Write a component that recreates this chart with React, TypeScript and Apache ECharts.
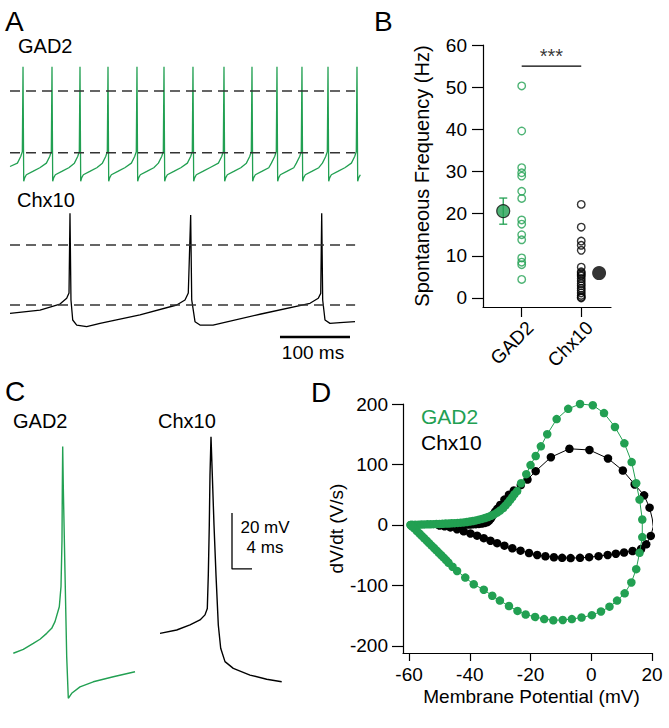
import React, { useEffect, useRef } from 'react';
import * as echarts from 'echarts';

const GREEN = '#22a052';
const FONT = '"Liberation Sans", Arial, Helvetica, sans-serif';

// ---------- Panel A: spontaneous firing (time in ms, voltage in mV) ----------
const A_GAD2_START = [0, -61];
const A_GAD2_SPIKE_TIMES = [18.6, 60, 100, 140, 181.4, 220, 261.4, 305.7, 345.7, 381.4, 417.1, 454.3, 495.7];
const A_GAD2_PRE_SPIKE = [[-8, -58.3], [-3.3, -53], [-1, -49], [0, 19.6]];
const A_GAD2_POST_SPIKE = [[1, -73], [2.5, -70], [4.8, -67.7], [14, -65], [24, -62]];
const A_CHX10_TRACE = [
  [0, -56.9], [42.9, -54.2], [71.4, -49.2], [81, -44.4], [84.3, -40], [85.7, 26.4], [87.1, -45.8],
  [89.6, -62.5], [95.3, -66.7], [109.6, -68], [128.6, -65.3], [185.7, -58.3], [238.1, -50], [250, -45.8],
  [254.7, -40], [258.1, 25], [259.6, -45.8], [264.3, -63.9], [271.4, -66.7], [290, -66.7], [358.6, -57.5],
  [428.6, -48.6], [440.4, -44.4], [443.9, -40.3], [445.3, 26.4], [446.7, -45.8], [450, -62.5],
  [457.1, -65.3], [471.4, -64.7], [492.9, -63.9],
];
const A_DASH_LEVELS = [0, -50];
const A_DASH_SPAN = [0, 493];
const A_SCALE_MS = [385.7, 485.7];
const A_SCALE_LEVEL = -76.7;

// ---------- Panel B: spontaneous frequency (Hz) ----------
const B_CATEGORIES = ['GAD2', 'Chx10'];
const B_GAD2_FREQ = [50.3, 39.6, 30.9, 29.7, 28.9, 25.3, 23.6, 18.5, 17.5, 15.0, 13.8, 9.5, 8.5, 7.9, 4.4];
const B_CHX10_FREQ = [22.2, 16.8, 13.5, 12.5, 11.3, 7.3, 6.2, 5.9, 5.5, 5.2, 4.6, 4.0, 3.4, 2.9, 2.3, 1.8, 1.2, 0.6, 0.2, 0];
const B_GAD2_MEAN = 20.6;
const B_GAD2_SEM = 3.1;
const B_CHX10_MEAN = 5.9;
const B_SIG_LEVEL = 55;
const B_SIG_TEXT = '***';
const B_Y_TICKS = [0, 10, 20, 30, 40, 50, 60];

// ---------- Panel C: single spikes (ms, mV) ----------
const C_GAD2_TRACE = [
  [0.66, -53.3], [2.66, -51.9], [4.66, -49.8], [6.0, -48.3], [7.34, -46.2], [8.34, -44.4], [9.0, -42.0],
  [9.86, -36.7], [10.2, -29.5], [10.4, -12.9], [10.46, 5.0], [10.54, 20.5], [10.66, 6.2], [11.0, -24.6],
  [11.34, -54.5], [11.66, -69.4], [12.34, -67.6], [14.0, -65.3], [16.66, -63.5], [20.66, -61.7], [25.0, -59.9],
];
const C_CHX10_TRACE = [
  [30.0, -46.2], [33.34, -45.0], [36.0, -43.2], [38.0, -41.4], [39.0, -39.6], [39.46, -37.3], [39.66, -25.4],
  [39.86, -7.5], [40.0, 10.4], [40.2, 24.0], [40.46, 10.4], [40.8, -7.5], [41.2, -25.4], [41.66, -43.2],
  [42.14, -51.5], [43.0, -56.3], [44.66, -58.7], [48.0, -61.1], [51.34, -62.6], [54.34, -63.5],
];
const C_SCALE_ORIGIN = [44.4, -23.2];
const C_SCALE_MV = 20;
const C_SCALE_MS = 4;

// ---------- Panel D: phase plots (mV, V/s) ----------
const D_X_TICKS = [-60, -40, -20, 0, 20];
const D_Y_TICKS = [-200, -100, 0, 100, 200];
const D_GAD2_PHASE = [
  [-59.5, 0], [-59, 0.2], [-58, 0.4], [-57, 0.6], [-56, 0.8], [-55, 1], [-54, 1.1], [-53, 1.2], [-52, 1.4],
  [-51, 1.6], [-50, 1.8], [-49, 2], [-48, 2.3], [-47, 2.5], [-46, 2.8], [-45, 3], [-44, 3.4], [-43, 3.8],
  [-42, 4.3], [-41, 5], [-40, 5.7], [-39, 6.6], [-38, 7.6], [-37, 8.8], [-36, 10], [-35, 11.5], [-34, 13.2],
  [-33, 15.2], [-32, 17.5], [-31, 20.5], [-30, 24], [-29, 28], [-28.2, 32.5], [-27.4, 37], [-26.7, 41.5],
  [-26, 46], [-25.3, 51], [-24.4, 56], [-23.1, 69], [-21.4, 84], [-20, 99], [-18.3, 114], [-16.6, 130],
  [-14.5, 150], [-11.4, 175], [-7.6, 192], [-3.7, 200], [0.5, 198], [4.2, 185], [7.8, 162], [10.9, 135],
  [13.3, 104], [14.8, 69], [15.9, 42], [16.8, 9], [16.8, -20], [15.9, -46], [14.8, -73], [13.2, -95],
  [11, -113], [8.5, -125], [6, -135], [3.2, -143], [0.2, -149], [-3.2, -153], [-6.4, -155.5], [-9.4, -157],
  [-12.5, -157.5], [-15.5, -155.5], [-18.5, -152], [-21.6, -148], [-24.3, -142], [-27.1, -134], [-30.1, -125],
  [-32.6, -117], [-35.4, -107], [-38.7, -98], [-41.5, -87], [-44.2, -76], [-45.7, -69], [-47, -62.5],
  [-47.8, -58], [-48.6, -54], [-49.4, -50], [-50.2, -46], [-51, -42], [-51.8, -38], [-52.6, -34], [-53.4, -30],
  [-54.2, -26], [-55, -22], [-55.8, -18], [-56.6, -14], [-57.4, -10], [-58.2, -6], [-59, -2.5], [-59.5, 0],
];
const D_CHX10_PHASE = [
  [-50, -0.5], [-49, -0.3], [-48, 0], [-47, 0], [-46, 0], [-45, 0.2], [-44, 0.3], [-43, 0.4], [-42, 0.5],
  [-41, 0.7], [-40, 0.9], [-39, 1.1], [-38, 1.4], [-37, 1.8], [-36, 2.4], [-35, 3.4], [-34.2, 5], [-33.6, 7.5],
  [-33.1, 10.5], [-32.7, 14], [-32.2, 18], [-31.6, 22.5], [-30.9, 27], [-30, 33], [-28.6, 42], [-27.1, 50],
  [-25.5, 57], [-23.2, 66], [-21, 75], [-18.3, 89], [-13.3, 112], [-7.2, 126], [-0.6, 124], [5.5, 110],
  [10.4, 90], [14.3, 67], [17.4, 49], [19.2, 28.6], [20.1, 10], [20.4, -3], [19.6, -18], [18.1, -32],
  [16.4, -39.7], [13.6, -43], [10.8, -45.5], [8.1, -47.5], [5.4, -49.6], [2.4, -51.5], [-0.7, -53.2],
  [-3.7, -54.3], [-6.8, -54.7], [-9.6, -54.3], [-12.3, -53.4], [-15.1, -51.7], [-17.8, -49.6], [-20.5, -46.3],
  [-23.3, -42.4], [-26, -38.5], [-28.6, -34.2], [-31, -30], [-33.2, -26], [-35.4, -21.8], [-37.6, -17.6],
  [-39.8, -14], [-42, -10.5], [-44.2, -7], [-46.4, -4], [-48.3, -2], [-50, -0.5],
];

function buildGad2Trace(): number[][] {
  const out: number[][] = [A_GAD2_START];
  A_GAD2_SPIKE_TIMES.forEach((ts, i) => {
    const next = A_GAD2_SPIKE_TIMES[i + 1];
    A_GAD2_PRE_SPIKE.forEach(([dt, v]) => {
      const t = ts + dt;
      if (t > out[out.length - 1][0]) out.push([t, v]);
    });
    A_GAD2_POST_SPIKE.forEach(([dt, v]) => {
      const t = ts + dt;
      if (t <= 505 && (next === undefined || t < next - 8)) out.push([t, v]);
    });
  });
  return out;
}

const hiddenAxis = (gridIndex: number, min: number, max: number) => ({
  gridIndex, type: 'value', min, max, show: false,
  axisLine: { show: false, onZero: false }, splitLine: { show: false },
});

export default function App() {
  const ref = useRef<HTMLDivElement>(null);
  useEffect(() => {
    document.body.style.margin = '0';
    if (!ref.current) return;
    const chart = echarts.init(ref.current, null, { renderer: 'svg' });
    const gad2A = buildGad2Trace();
    const lineTxt = { color: '#000', fontFamily: FONT };
    const dashStyle = { color: '#333', width: 1.5, type: [10, 6] as any };
    const dashSeries = (gi: number) =>
      A_DASH_LEVELS.map((lv) => ({
        type: 'line', name: 'level ' + lv, xAxisIndex: gi, yAxisIndex: gi,
        data: [[A_DASH_SPAN[0], lv], [A_DASH_SPAN[1], lv]], symbol: 'none', lineStyle: dashStyle, z: 3,
      }));

    const txt = (text: string, x: number, y: number, size: number, color = '#000', align = 'left') => ({
      type: 'text', x, y,
      style: {
        text, fill: color, font: `${size}px ${FONT}`, textAlign: align, textVerticalAlign: 'middle',
        align, verticalAlign: 'middle',
      },
    });

    const option: any = {
      animation: false,
      textStyle: { fontFamily: FONT },
      grid: [
        { left: 10, top: 60, width: 353.5, height: 130, outerBoundsMode: 'none' },
        { left: 10, top: 209, width: 353.5, height: 132, outerBoundsMode: 'none' },
        { left: 483, top: 45, width: 128, height: 262, outerBoundsMode: 'none' },
        { left: 10, top: 420, width: 290, height: 294, outerBoundsMode: 'none' },
        { left: 403, top: 404, width: 249, height: 249, outerBoundsMode: 'none' },
      ],
      xAxis: [
        hiddenAxis(0, 0, 505),
        hiddenAxis(1, 0, 505),
        {
          gridIndex: 2, type: 'value', min: 0.35, max: 2.5,
          axisLine: { onZero: false, lineStyle: { color: '#000', width: 1.2 } },
          axisTick: { show: true, length: 10, customValues: [1, 2], lineStyle: { color: '#000', width: 1.2 } },
          axisLabel: {
            customValues: [1, 2], rotate: 45, margin: 26, padding: [0, -12, 0, 0], fontSize: 19, ...lineTxt,
            formatter: (v: number) => B_CATEGORIES[Math.round(v) - 1] || '',
          },
          splitLine: { show: false },
        },
        hiddenAxis(3, 0, 58),
        {
          gridIndex: 4, type: 'value', min: -62, max: 20,
          axisLine: { onZero: false, lineStyle: { color: '#000', width: 1.2 } },
          axisTick: { show: true, length: 8, customValues: D_X_TICKS, lineStyle: { color: '#000', width: 1.2 } },
          axisLabel: { customValues: D_X_TICKS, margin: 12, fontSize: 19, ...lineTxt },
          splitLine: { show: false },
          name: 'Membrane Potential (mV)', nameLocation: 'middle', nameGap: 34,
          nameTextStyle: { fontSize: 19, padding: [0, 0, 0, 8], ...lineTxt },
        },
      ],
      yAxis: [
        hiddenAxis(0, -80, 25),
        hiddenAxis(1, -80, 30),
        {
          gridIndex: 2, type: 'value', min: -2.14, max: 60,
          axisLine: { onZero: false, lineStyle: { color: '#000', width: 1.2 } },
          axisTick: { show: true, length: 11, customValues: B_Y_TICKS, lineStyle: { color: '#000', width: 1.2 } },
          axisLabel: { customValues: B_Y_TICKS, margin: 16, fontSize: 19, ...lineTxt },
          splitLine: { show: false },
          name: 'Spontaneous Frequency (Hz)', nameLocation: 'middle', nameGap: 51,
          nameTextStyle: { fontSize: 20, ...lineTxt },
        },
        hiddenAxis(3, -75, 30),
        {
          gridIndex: 4, type: 'value', min: -211.6, max: 200,
          axisLine: { onZero: false, lineStyle: { color: '#000', width: 1.2 } },
          axisTick: { show: true, length: 11, customValues: D_Y_TICKS, lineStyle: { color: '#000', width: 1.2 } },
          axisLabel: { customValues: D_Y_TICKS, margin: 15, fontSize: 19, ...lineTxt },
          splitLine: { show: false },
          name: 'dV/dt (V/s)', nameLocation: 'middle', nameGap: 57,
          nameTextStyle: { fontSize: 19, ...lineTxt },
        },
      ],
      legend: {
        orient: 'vertical', left: 411, top: 401, icon: 'none', itemWidth: 0, itemHeight: 14, itemGap: 5,
        selectedMode: false,
        textStyle: { fontSize: 21, fontFamily: FONT },
        data: [
          { name: 'GAD2', textStyle: { color: GREEN } },
          { name: 'Chx10', textStyle: { color: '#000' } },
        ],
      },
      graphic: [
        txt('A', 5, 21, 28),
        txt('B', 374, 21, 28),
        txt('C', 5, 391, 28),
        txt('D', 311, 392, 28),
        txt('GAD2', 18, 46, 20),
        txt('Chx10', 17, 200, 20),
        txt('100 ms', 313, 352, 19, '#000', 'center'),
        txt('GAD2', 13, 421, 20),
        txt('Chx10', 158, 421, 20),
        txt('20 mV', 265, 527, 17, '#000', 'center'),
        txt('4 ms', 265, 547, 17, '#000', 'center'),
      ],
      series: [
        // Panel A
        {
          type: 'line', name: 'GAD2 trace', xAxisIndex: 0, yAxisIndex: 0, data: gad2A, symbol: 'none',
          lineStyle: { color: GREEN, width: 1.3 }, z: 2,
        },
        ...dashSeries(0),
        {
          type: 'line', name: 'Chx10 trace', xAxisIndex: 1, yAxisIndex: 1, data: A_CHX10_TRACE, symbol: 'none',
          lineStyle: { color: '#000', width: 1.3 }, z: 2,
        },
        ...dashSeries(1),
        {
          type: 'line', name: 'A scale bar', xAxisIndex: 1, yAxisIndex: 1, symbol: 'none',
          data: [[A_SCALE_MS[0], A_SCALE_LEVEL], [A_SCALE_MS[1], A_SCALE_LEVEL]],
          lineStyle: { color: '#000', width: 2.6 },
        },
        // Panel B
        {
          type: 'line', name: 'significance', xAxisIndex: 2, yAxisIndex: 2, symbol: 'none',
          data: [[1, B_SIG_LEVEL], [2, B_SIG_LEVEL]], lineStyle: { color: '#000', width: 1.2 },
        },
        {
          type: 'scatter', name: 'significance label', xAxisIndex: 2, yAxisIndex: 2, symbolSize: 0,
          data: [[1.5, B_SIG_LEVEL]],
          label: { show: true, position: 'top', distance: 0, formatter: B_SIG_TEXT, fontSize: 20, color: '#000', fontFamily: FONT },
        },
        {
          type: 'scatter', name: 'GAD2 cells', xAxisIndex: 2, yAxisIndex: 2, symbolSize: 7.5,
          data: B_GAD2_FREQ.map((v) => [1, v]),
          itemStyle: { color: 'rgba(0,0,0,0)', borderColor: GREEN, borderWidth: 1.4 },
        },
        {
          type: 'scatter', name: 'Chx10 cells', xAxisIndex: 2, yAxisIndex: 2, symbolSize: 7.5,
          data: B_CHX10_FREQ.map((v) => [2, v]),
          itemStyle: { color: 'rgba(0,0,0,0)', borderColor: '#000', borderWidth: 1.4 },
        },
        {
          type: 'custom', name: 'GAD2 sem', xAxisIndex: 2, yAxisIndex: 2,
          data: [[0.69, B_GAD2_MEAN - B_GAD2_SEM, B_GAD2_MEAN + B_GAD2_SEM]],
          encode: { x: 0, y: [1, 2] },
          renderItem: (params: any, api: any) => {
            const x = api.value(0);
            const lo = api.coord([x, api.value(1)]);
            const hi = api.coord([x, api.value(2)]);
            const w = 4;
            const st = { stroke: GREEN, lineWidth: 1.3 };
            return {
              type: 'group',
              children: [
                { type: 'line', shape: { x1: lo[0], y1: lo[1], x2: hi[0], y2: hi[1] }, style: st },
                { type: 'line', shape: { x1: lo[0] - w, y1: lo[1], x2: lo[0] + w, y2: lo[1] }, style: st },
                { type: 'line', shape: { x1: hi[0] - w, y1: hi[1], x2: hi[0] + w, y2: hi[1] }, style: st },
              ],
            };
          },
          z: 3,
        },
        {
          type: 'scatter', name: 'GAD2 mean', xAxisIndex: 2, yAxisIndex: 2, symbolSize: 13,
          data: [[0.69, B_GAD2_MEAN]], itemStyle: { color: GREEN, borderColor: '#111', borderWidth: 1.2 }, z: 4,
        },
        {
          type: 'scatter', name: 'Chx10 mean', xAxisIndex: 2, yAxisIndex: 2, symbolSize: 14,
          data: [[2.3, B_CHX10_MEAN]], itemStyle: { color: '#000' }, z: 4,
        },
        // Panel C
        {
          type: 'line', name: 'GAD2 spike', xAxisIndex: 3, yAxisIndex: 3, data: C_GAD2_TRACE, symbol: 'none',
          lineStyle: { color: GREEN, width: 1.4 },
        },
        {
          type: 'line', name: 'Chx10 spike', xAxisIndex: 3, yAxisIndex: 3, data: C_CHX10_TRACE, symbol: 'none',
          lineStyle: { color: '#000', width: 1.4 },
        },
        {
          type: 'line', name: 'C scale bar', xAxisIndex: 3, yAxisIndex: 3, symbol: 'none',
          data: [
            [C_SCALE_ORIGIN[0], C_SCALE_ORIGIN[1] + C_SCALE_MV],
            [C_SCALE_ORIGIN[0], C_SCALE_ORIGIN[1]],
            [C_SCALE_ORIGIN[0] + C_SCALE_MS, C_SCALE_ORIGIN[1]],
          ],
          lineStyle: { color: '#000', width: 1.3 },
        },
        // Panel D
        {
          type: 'line', name: 'Chx10', xAxisIndex: 4, yAxisIndex: 4, data: D_CHX10_PHASE,
          symbol: 'circle', symbolSize: 8.5, showSymbol: true,
          itemStyle: { color: '#000' }, lineStyle: { color: '#000', width: 1 }, z: 3,
        },
        {
          type: 'line', name: 'GAD2', xAxisIndex: 4, yAxisIndex: 4, data: D_GAD2_PHASE,
          symbol: 'circle', symbolSize: 8.5, showSymbol: true,
          itemStyle: { color: GREEN }, lineStyle: { color: GREEN, width: 1 }, z: 4,
        },
      ],
    };
    chart.setOption(option);
    return () => chart.dispose();
  }, []);
  return <div ref={ref} style={{ width: 669, height: 728 }} />;
}
